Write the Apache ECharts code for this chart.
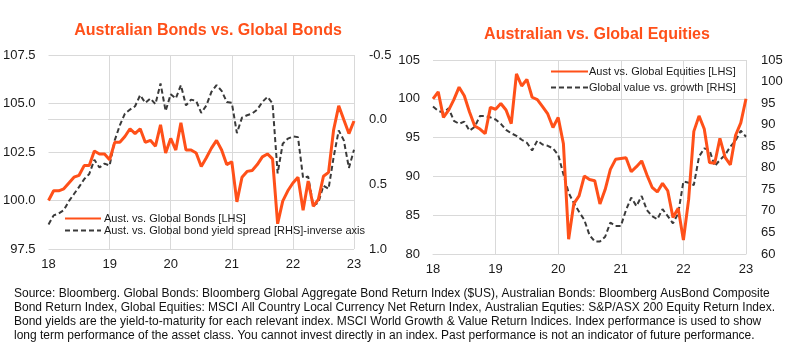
<!DOCTYPE html>
<html>
<head>
<meta charset="utf-8">
<script src="https://cdn.jsdelivr.net/npm/echarts@6/dist/echarts.min.js"></script>
<style>html,body{margin:0;padding:0;background:#fff}#c{width:789px;height:364px}</style>
</head>
<body>
<div id="c"></div>
<script>
// ---------- data ----------
const months = [];
for (let y = 2018; y <= 2023; y++) {
  for (let m = 1; m <= 12; m++) {
    if (y === 2023 && m > 1) break;
    months.push(y + '-' + (m < 10 ? '0' + m : m));
  }
}
const yearTickLabels = ['18', '19', '20', '21', '22', '23'];

const ausBonds = [100.0,100.5,100.5,100.6,100.9,101.2,101.3,101.8,101.8,102.55,102.4,102.4,
  102.1,103.0,103.0,103.3,103.7,103.45,103.7,103.0,103.1,102.8,103.9,102.45,
  103.2,102.6,104.0,102.6,102.6,102.45,101.75,102.2,102.7,103.1,102.6,101.85,
  102.0,99.93,101.2,101.5,101.55,101.85,102.25,102.4,102.15,98.8,99.97,100.5,
  100.9,101.2,99.5,101.0,99.7,100.06,101.25,101.45,103.65,104.88,104.16,103.45,
  104.1];
const bondSpread = [0.81,0.74,0.725,0.70,0.63,0.575,0.52,0.46,0.42,0.31,0.37,0.34,
  0.355,0.16,0.044,-0.047,-0.078,-0.104,-0.19,-0.13,-0.164,-0.12,-0.28,-0.067,
  -0.197,-0.164,-0.267,-0.11,-0.155,-0.145,-0.052,-0.11,-0.215,-0.267,-0.223,-0.137,
  -0.13,0.104,-0.016,-0.034,-0.047,-0.078,-0.137,-0.176,-0.125,0.415,0.186,0.147,
  0.13,0.135,0.45,0.44,0.665,0.64,0.51,0.535,0.29,0.083,0.16,0.373,
  0.233];
const ausEquities = [100.0,100.9,97.6,98.55,99.9,101.5,100.4,98.3,96.5,96.1,95.5,98.9,
  98.65,99.4,98.55,96.8,103.2,101.65,102.5,100.2,99.9,99.0,98.05,96.3,
  97.6,94.2,81.9,86.5,87.5,90.05,89.6,89.45,86.45,88.3,90.9,92.2,
  92.3,92.4,90.6,91.25,92.0,90.2,88.6,88.0,89.1,88.15,84.7,85.9,
  81.8,87.0,95.8,97.8,96.1,91.8,91.7,94.9,92.45,91.5,95.3,96.9,
  100.0];
const valueGrowth = [94.2,93.2,92.8,93.8,90.9,90.2,90.7,88.6,89.5,92.0,92.0,91.7,
  91.2,90.2,88.8,88.0,87.4,86.5,85.8,84.0,86.3,85.4,85.1,84.5,
  83.0,78.5,74.2,71.8,69.8,67.9,64.4,62.9,62.9,64.0,67.3,66.5,
  66.5,70.2,73.1,71.1,73.45,70.2,68.8,68.05,70.4,68.8,67.1,69.4,
  76.8,76.55,76.0,82.6,84.5,84.1,80.4,81.8,83.0,84.9,86.3,88.6,
  87.2];

const titles = ['Australian Bonds vs. Global Bonds', 'Australian vs. Global Equities'];
const seriesNames = ['Aust. vs. Global Bonds [LHS]', 'Aust. vs. Global bond yield spread [RHS]-inverse axis',
  'Aust vs. Global Equities [LHS]', 'Global value vs. growth [RHS]'];
const footnote = [
  'Source: Bloomberg. Global Bonds: Bloomberg Global Aggregate Bond Return Index ($US), Australian Bonds: Bloomberg AusBond Composite',
  'Bond Return Index, Global Equities: MSCI All Country Local Currency Net Return Index, Australian Equties: S&P/ASX 200 Equity Return Index.',
  'Bond yields are the yield-to-maturity for each relevant index. MSCI World Growth & Value Return Indices. Index performance is used to show',
  'long term performance of the asset class. You cannot invest directly in an index. Past performance is not an indicator of future performance.'
];

// ---------- styles ----------
const ORANGE = '#FF5019';
const DARK = '#3a3a3a';
const GRID = '#d9d9d9';
const FONT = '"Liberation Sans", Arial, sans-serif';
const labelStyle = { color: '#1a1a1a', fontSize: 13, fontFamily: FONT };
const hiddenSymbol = { color: 'rgba(0,0,0,0)', borderColor: 'rgba(0,0,0,0)', borderWidth: 0, opacity: 0 };

function xAxis(gridIndex) {
  return {
    type: 'category', gridIndex, data: months, boundaryGap: false,
    axisLine: { show: true, lineStyle: { color: GRID } },
    axisTick: { show: false },
    axisLabel: Object.assign({}, labelStyle, {
      margin: 9,
      interval: (i) => i % 12 === 0,
      formatter: (v, i) => yearTickLabels[Math.round(i / 12)]
    }),
    splitLine: { show: true, interval: (i) => i % 12 === 0 && i > 0, lineStyle: { color: GRID, width: 1 } }
  };
}

const chart = echarts.init(document.getElementById('c'), null, { renderer: 'canvas' });
chart.setOption({
  animation: false,
  backgroundColor: '#fff',
  textStyle: { fontFamily: FONT },
  grid: [
    { left: 48, right: 435, top: 55, bottom: 115 },
    { left: 433, right: 43, top: 60, bottom: 110 }
  ],
  xAxis: [xAxis(0), xAxis(1)],
  yAxis: [
    { type: 'value', gridIndex: 0, min: 97.5, max: 107.5, interval: 2.5, position: 'left',
      axisLine: { show: false }, axisTick: { show: false },
      axisLabel: Object.assign({}, labelStyle, { margin: 13, formatter: v => v.toFixed(1) }),
      splitLine: { show: true, lineStyle: { color: GRID } } },
    { type: 'value', gridIndex: 0, min: -0.5, max: 1.0, interval: 0.5, position: 'right', inverse: true,
      axisLine: { show: false }, axisTick: { show: false },
      axisLabel: Object.assign({}, labelStyle, { margin: 15, formatter: v => v.toFixed(1) }),
      splitLine: { show: false } },
    { type: 'value', gridIndex: 1, min: 80, max: 105, interval: 5, position: 'left',
      axisLine: { show: false }, axisTick: { show: false },
      axisLabel: Object.assign({}, labelStyle, { margin: 13 }),
      splitLine: { show: true, lineStyle: { color: GRID } } },
    { type: 'value', gridIndex: 1, min: 60, max: 105, interval: 5, position: 'right',
      axisLine: { show: false }, axisTick: { show: false },
      axisLabel: Object.assign({}, labelStyle, { margin: 15 }),
      splitLine: { show: false } }
  ],
  legend: [
    { data: [seriesNames[0], seriesNames[1]], orient: 'vertical', left: 64, top: 213,
      itemWidth: 36, itemHeight: 12, itemGap: 1, padding: 0, itemStyle: hiddenSymbol,
      textStyle: { fontSize: 11, color: '#1a1a1a', fontFamily: FONT, padding: [0, 0, 0, -2] } },
    { data: [seriesNames[2], seriesNames[3]], orient: 'vertical', left: 550, top: 66,
      itemWidth: 37, itemHeight: 12, itemGap: 5, padding: 0, itemStyle: hiddenSymbol,
      textStyle: { fontSize: 11, color: '#1a1a1a', fontFamily: FONT, padding: [0, 0, 0, -4] } }
  ],
  series: [
    { name: seriesNames[0], type: 'line', xAxisIndex: 0, yAxisIndex: 0, data: ausBonds,
      symbol: 'none', lineStyle: { color: ORANGE, width: 3 }, itemStyle: { color: ORANGE }, z: 3 },
    { name: seriesNames[1], type: 'line', xAxisIndex: 0, yAxisIndex: 1, data: bondSpread,
      symbol: 'none', lineStyle: { color: DARK, width: 2, type: [5, 3] }, itemStyle: { color: DARK }, z: 2 },
    { name: seriesNames[2], type: 'line', xAxisIndex: 1, yAxisIndex: 2, data: ausEquities,
      symbol: 'none', lineStyle: { color: ORANGE, width: 3 }, itemStyle: { color: ORANGE }, z: 3 },
    { name: seriesNames[3], type: 'line', xAxisIndex: 1, yAxisIndex: 3, data: valueGrowth,
      symbol: 'none', lineStyle: { color: DARK, width: 2, type: [5, 3] }, itemStyle: { color: DARK }, z: 2 }
  ],
  graphic: [
    { type: 'text', x: 208, y: 31, style: { text: titles[0], fill: ORANGE, font: 'bold 16px ' + FONT, textAlign: 'center', textVerticalAlign: 'middle' } },
    { type: 'text', x: 597, y: 35, style: { text: titles[1], fill: ORANGE, font: 'bold 16px ' + FONT, textAlign: 'center', textVerticalAlign: 'middle' } },
    { type: 'text', x: 14, y: 287, style: { text: footnote.join('\n'), fill: '#111', font: '12px ' + FONT, lineHeight: 14 } }
  ]
});
</script>
</body>
</html>
